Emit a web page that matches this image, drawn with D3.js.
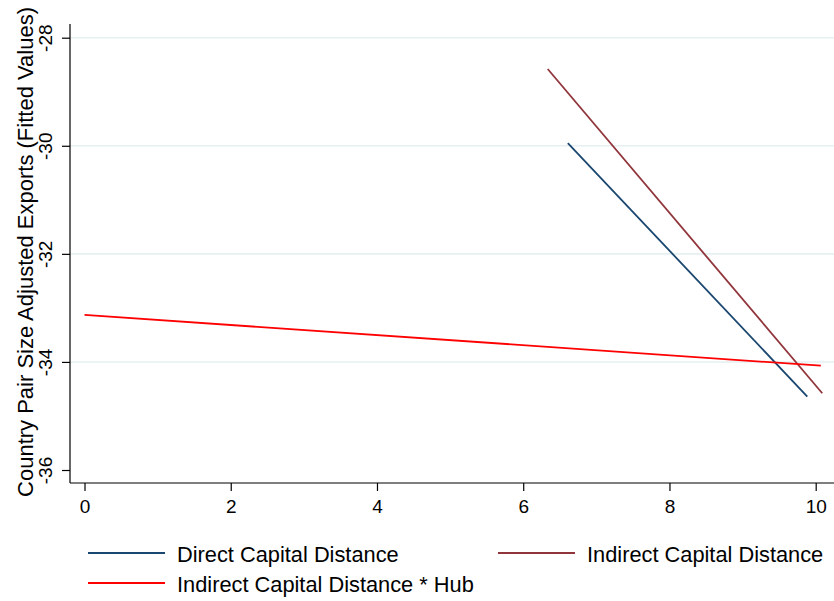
<!DOCTYPE html>
<html lang="en">
<head>
<meta charset="UTF-8">
<title>Fitted Values</title>
<script src="https://d3js.org/d3.v7.min.js"></script>
<style>
  html, body { margin: 0; padding: 0; background: #fff; }
  svg text { font-family: "Liberation Sans", Arial, Helvetica, sans-serif; fill: #000; }
</style>
</head>
<body>
<script>
// data
const xTicks = [0, 2, 4, 6, 8, 10];
const yTicks = [-28, -30, -32, -34, -36];
const gridTicks = [-28, -30, -32, -34];
const seriesNames = ['Direct Capital Distance', 'Indirect Capital Distance', 'Indirect Capital Distance * Hub'];
const seriesColors = ['#1a476f', '#90353b', '#ff0000'];
const directLine = [[6.61, -29.95], [9.885, -34.64]];
const indirectLine = [[6.335, -28.58], [10.09, -34.58]];
const hubLine = [[0, -33.13], [10.07, -34.07]];
const seriesData = [directLine, indirectLine, hubLine];

const w = 834, h = 601;
const padL = 70, padB = 483, padT = 24;

const svg = d3.select('body').append('svg')
  .attr('width', w)
  .attr('height', h);

const x = d3.scaleLinear().domain([0, 10]).range([84.5, 815.7]);
const y = d3.scaleLinear().domain([-36, -28]).range([470, 37.7]);

// gridlines
svg.append('g')
  .selectAll('line')
  .data(gridTicks)
  .enter()
  .append('line')
  .attr('x1', padL)
  .attr('x2', w)
  .attr('y1', d => y(d))
  .attr('y2', d => y(d))
  .attr('stroke', '#e6eff1')
  .attr('stroke-width', 1.6);

// y axis
const yAxis = svg.append('g')
  .attr('transform', 'translate(' + padL + ',0)')
  .call(d3.axisLeft(y).tickValues(yTicks).tickSize(8).tickSizeOuter(0).tickFormat(d => String(d)));
yAxis.select('.domain').remove();
yAxis.selectAll('.tick line').attr('stroke', '#000').attr('stroke-width', 1.2);
yAxis.selectAll('.tick text')
  .attr('transform', 'rotate(-90)')
  .attr('x', 0)
  .attr('y', -18)
  .attr('dy', 0)
  .attr('text-anchor', 'middle')
  .style('font-size', '19px');

// x axis
const xAxis = svg.append('g')
  .attr('transform', 'translate(0,' + padB + ')')
  .call(d3.axisBottom(x).tickValues(xTicks).tickSize(8).tickSizeOuter(0));
xAxis.select('.domain').remove();
xAxis.selectAll('.tick line').attr('stroke', '#000').attr('stroke-width', 1.2);
xAxis.selectAll('.tick text')
  .attr('y', 29.5)
  .attr('dy', 0)
  .style('font-size', '19px');

// axis lines
svg.append('line')
  .attr('x1', padL).attr('x2', padL)
  .attr('y1', padT).attr('y2', padB)
  .attr('stroke', '#000').attr('stroke-width', 1.2);
svg.append('line')
  .attr('x1', padL).attr('x2', w)
  .attr('y1', padB).attr('y2', padB)
  .attr('stroke', '#000').attr('stroke-width', 1.2);

// y axis title
svg.append('text')
  .attr('transform', 'translate(33,252) rotate(-90)')
  .attr('text-anchor', 'middle')
  .style('font-size', '22px')
  .text('Country Pair Size Adjusted Exports (Fitted Values)');

// fitted lines
const line = d3.line().x(d => x(d[0])).y(d => y(d[1]));
svg.append('g')
  .selectAll('path')
  .data(seriesData)
  .enter()
  .append('path')
  .attr('d', d => line(d))
  .attr('fill', 'none')
  .attr('stroke', (d, i) => seriesColors[i])
  .attr('stroke-width', 1.8);

// legend
const legendPos = [[88, 553], [498, 553], [88, 583]];
const legend = svg.append('g')
  .selectAll('g')
  .data(seriesNames)
  .enter()
  .append('g')
  .attr('transform', (d, i) => 'translate(' + legendPos[i][0] + ',' + legendPos[i][1] + ')');
legend.append('line')
  .attr('x1', 0).attr('x2', 77)
  .attr('y1', 0).attr('y2', 0)
  .attr('stroke', (d, i) => seriesColors[i])
  .attr('stroke-width', 2);
legend.append('text')
  .attr('x', 89)
  .attr('y', 8.5)
  .style('font-size', '21.8px')
  .text(d => d);
</script>
</body>
</html>
